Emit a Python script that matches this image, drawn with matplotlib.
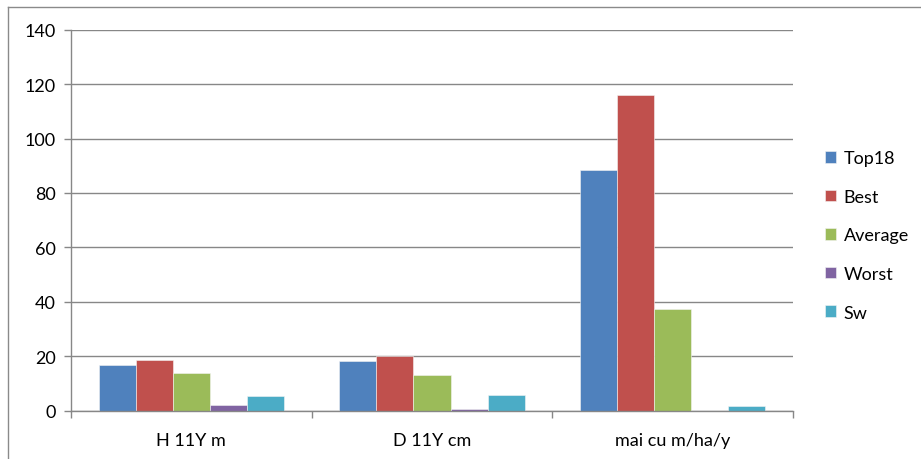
import numpy as np
import matplotlib.pyplot as plt
from matplotlib.lines import Line2D

plt.rcParams['font.family'] = ['Lato', 'DejaVu Sans']

categories = ['H 11Y m', 'D 11Y cm', 'mai cu m/ha/y']
series = ['Top18', 'Best', 'Average', 'Worst', 'Sw']
top18 = [16.8, 18.2, 88.4]
best = [18.6, 20.0, 116.1]
average = [14.0, 13.1, 37.3]
worst = [2.2, 0.6, 0.0]
sw = [5.4, 5.7, 1.7]
values = [top18, best, average, worst, sw]
colors = ['#4F81BD', '#C0504D', '#9BBB59', '#8064A2', '#4BACC6']

fig = plt.figure(figsize=(9.21, 4.60), dpi=100)
ax = fig.add_axes([71 / 921, 1 - 411.7 / 460, (793 - 71) / 921, (411.7 - 30.7) / 460])

x = np.arange(len(categories))
w = 1 / 6.5
for i, (name, vals) in enumerate(zip(series, values)):
    ax.bar(x + (i - 2) * w, vals, width=w, color=colors[i], edgecolor='#f4f4f4',
           linewidth=0.4, label=name, zorder=3)

grid_c = '#878787'
fs = 13
ax.set_xlim(-0.5, len(categories) - 0.5)
ax.set_ylim(0, 140)
ax.set_yticks(range(0, 141, 20))
ax.yaxis.grid(True, color=grid_c, linewidth=1, zorder=0)
ax.tick_params(axis='y', length=5, width=1, color=grid_c, labelsize=fs, pad=6)

# category boundaries as ticks, names centred between them
ax.set_xticks(np.arange(-0.5, len(categories), 1))
ax.set_xticklabels([])
ax.set_xticks(x, minor=True)
ax.set_xticklabels(categories, minor=True)
ax.tick_params(axis='x', which='major', length=5, width=1, color=grid_c)
ax.tick_params(axis='x', which='minor', length=0, labelsize=fs, pad=15)

for s in ['top', 'right']:
    ax.spines[s].set_visible(False)
for s in ['left', 'bottom']:
    ax.spines[s].set_color(grid_c)
    ax.spines[s].set_linewidth(1)
ax.spines['bottom'].set_zorder(4)

ax.legend(loc='center left', bbox_to_anchor=(1.035, 0.46), frameon=False,
          fontsize=fs, handlelength=0.6, handleheight=0.6,
          handletextpad=0.4, labelspacing=1.25, borderaxespad=0)

# outer frame along the top and left edges
fig.add_artist(Line2D([7.5 / 921, 1], [1 - 7.5 / 460, 1 - 7.5 / 460],
                      transform=fig.transFigure, color='#8a8a8a', linewidth=1))
fig.add_artist(Line2D([7.5 / 921, 7.5 / 921], [0, 1 - 7.5 / 460],
                      transform=fig.transFigure, color='#8a8a8a', linewidth=1))

fig.savefig('out.png', dpi=100)
